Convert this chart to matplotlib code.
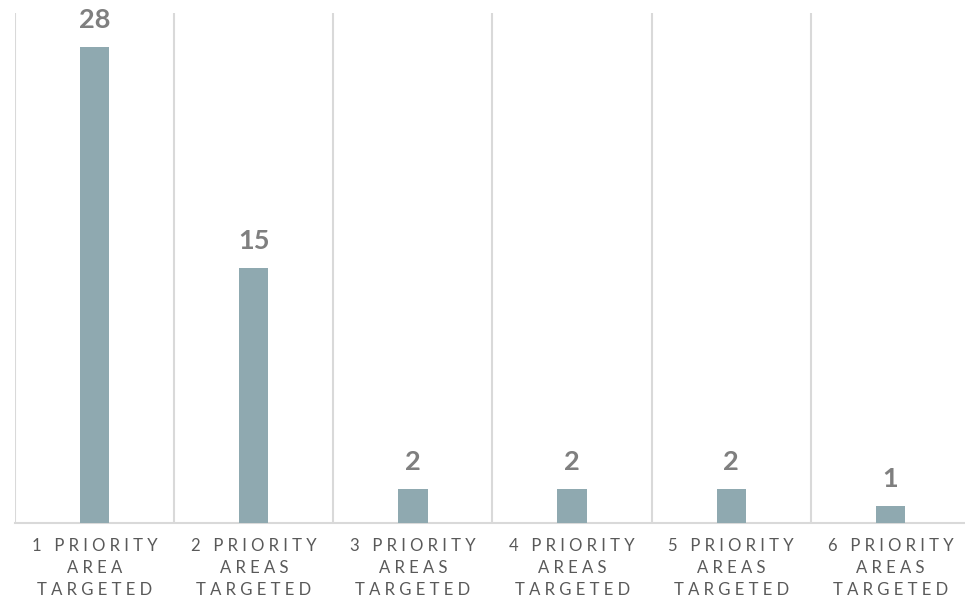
import numpy as np
import matplotlib
matplotlib.use("Agg")
import matplotlib.pyplot as plt

categories = ["1 PRIORITY\nAREA\nTARGETED",
              "2 PRIORITY\nAREAS\nTARGETED",
              "3 PRIORITY\nAREAS\nTARGETED",
              "4 PRIORITY\nAREAS\nTARGETED",
              "5 PRIORITY\nAREAS\nTARGETED",
              "6 PRIORITY\nAREAS\nTARGETED"]
counts = [28, 15, 2, 2, 2, 1]


def spaced(label):
    # fake letter spacing: space between letters, wider gap between words
    lines = []
    for line in label.split("\n"):
        words = [" ".join(w) for w in line.split(" ")]
        lines.append("   ".join(words))
    return "\n".join(lines)


plt.rcParams['font.family'] = ['Lato', 'DejaVu Sans']

fig = plt.figure(figsize=(9.65, 6), dpi=100)
ax = fig.add_axes([15/965, 77/600, 955/965, 510/600])

x = np.arange(len(counts))
bars = ax.bar(x, counts, width=0.185, color="#8FA9B0", zorder=3)
ax.bar_label(bars, padding=11, fontsize=19.5, fontweight="bold", color="#7F7F7F")

for sep in np.arange(len(counts) + 1) - 0.5:
    ax.axvline(sep, color="#D9D9D9", linewidth=1.5, zorder=1)

ax.set_xlim(-0.5, len(counts) - 0.5)
ax.set_ylim(0, 30)
ax.set_xticks(x)
ax.set_xticklabels([spaced(c) for c in categories], fontsize=12,
                   color="#595959", linespacing=1.45)
ax.tick_params(axis="x", length=0, pad=11)
ax.set_yticks([])

for side in ["top", "right", "left"]:
    ax.spines[side].set_visible(False)
ax.spines["bottom"].set_color("#D9D9D9")
ax.spines["bottom"].set_linewidth(1.5)

fig.savefig("out.png", dpi=100)
